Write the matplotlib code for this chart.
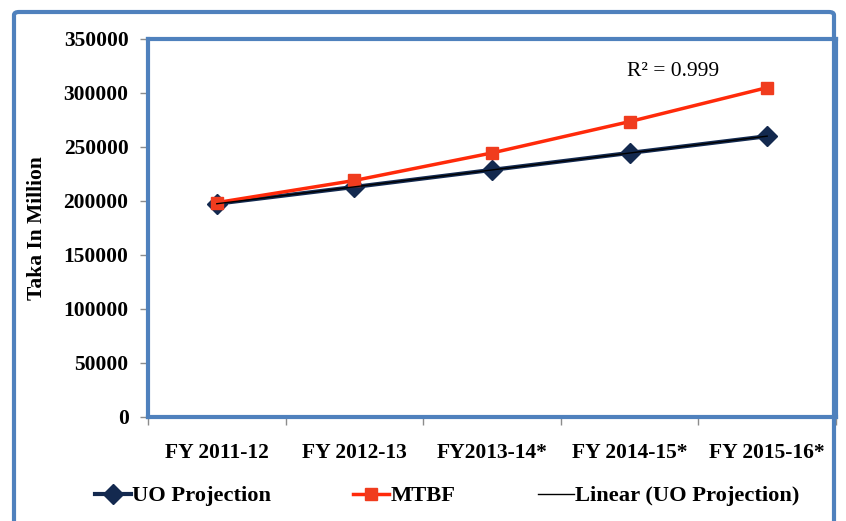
import numpy as np
import matplotlib.pyplot as plt
from matplotlib.patches import FancyBboxPatch

plt.rcParams["font.family"] = ["Liberation Serif", "DejaVu Serif"]

categories = ["FY 2011-12", "FY 2012-13", "FY2013-14*", "FY 2014-15*", "FY 2015-16*"]
uo_projection = [197500, 213000, 228800, 244500, 260000]
mtbf = [198500, 219000, 244500, 273500, 305000]
y_ticks = [0, 50000, 100000, 150000, 200000, 250000, 300000, 350000]

BORDER = "#4F81BD"
NAVY = "#13294F"
RED = "#FF2A0A"
FS = 15.5

fig = plt.figure(figsize=(8.46, 5.21), dpi=100)
ax = fig.add_axes([148 / 846, 104 / 521, 688 / 846, 378 / 521])

x = np.arange(len(categories))

# trend line fitted on the UO projection
slope, intercept = np.polyfit(x, uo_projection, 1)
fit = slope * x + intercept

ax.plot(x, uo_projection, color=NAVY, lw=3, marker="D", ms=10,
        label="UO Projection", zorder=3)
ax.plot(x, mtbf, color=RED, lw=2.5, marker="s", ms=9,
        markerfacecolor="#F03C1E", markeredgecolor="#F03C1E",
        label="MTBF", zorder=4)
ax.plot(x, fit, color="black", lw=1, label="Linear (UO Projection)", zorder=5)

ax.text(2.98, 320000, "R² = 0.999", fontsize=FS, ha="left", va="center")

ax.set_xlim(-0.5, len(categories) - 0.5)
ax.set_ylim(0, 350000)
ax.set_yticks(y_ticks)
ax.set_yticklabels([str(v) for v in y_ticks], fontsize=FS, fontweight="bold")
ax.set_xticks(x)
ax.set_xticklabels(categories, fontsize=FS, fontweight="bold")
ax.set_xticks(np.arange(-0.5, len(categories)), minor=True)
ax.tick_params(axis="x", which="major", length=0, pad=19)
ax.tick_params(axis="x", which="minor", length=6, color="#8C8C8C", width=1)
ax.tick_params(axis="y", length=6, color="#8C8C8C", width=1, pad=8)
ax.set_ylabel("Taka In Million", fontsize=FS, fontweight="bold", labelpad=12)

for s in ax.spines.values():
    s.set_color(BORDER)
    s.set_linewidth(3)

# outer chart frame
frame = FancyBboxPatch((14 / 846, -0.05), 820 / 846, (521 - 12) / 521 + 0.05,
                       boxstyle="round,pad=0,rounding_size=0.006",
                       transform=fig.transFigure, fill=False,
                       edgecolor=BORDER, lw=3, clip_on=False)
fig.patches.append(frame)

fig.legend(loc="center left", bbox_to_anchor=(95 / 846, 25 / 521), ncol=3,
           frameon=False, borderpad=0, borderaxespad=0,
           prop={"size": 16.2, "weight": "bold"}, columnspacing=3.65,
           handlelength=1.6, handletextpad=0.05)

fig.savefig("out.png", dpi=100)
